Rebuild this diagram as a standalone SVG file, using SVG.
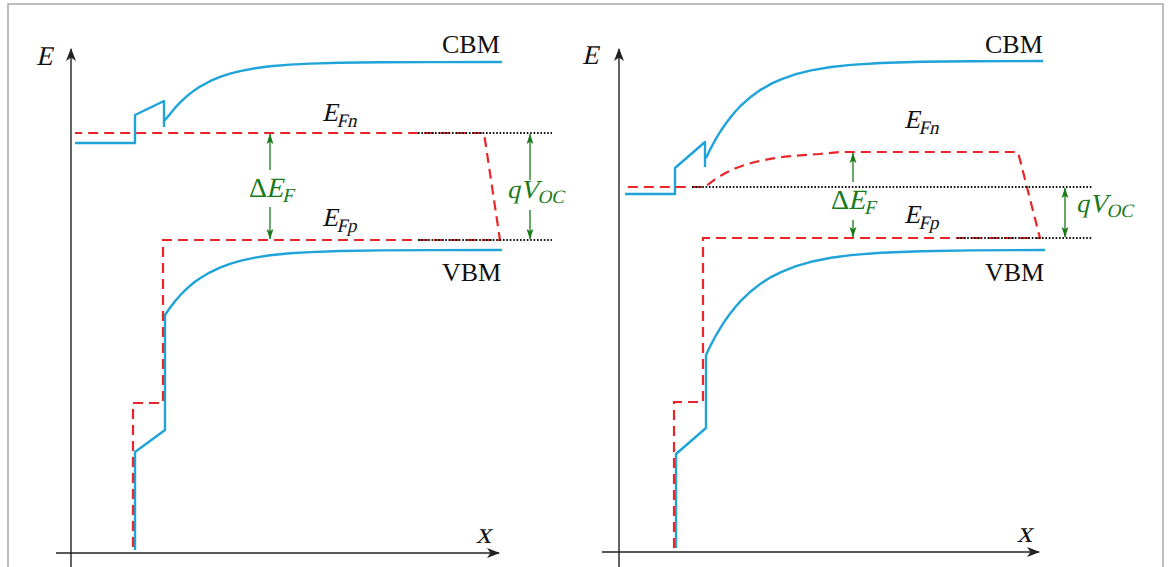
<svg xmlns="http://www.w3.org/2000/svg" width="1170" height="567" viewBox="0 0 1170 567">
<style>
.ax{stroke:#222;stroke-width:1.4;fill:none}
.band{stroke:#1fa3d9;stroke-width:2.4;fill:none;stroke-linejoin:round}
.fermi{stroke:#e8262a;stroke-width:2.2;fill:none;stroke-dasharray:10 6}
.dot{stroke:#111;stroke-width:1.8;fill:none;stroke-dasharray:1.6 1.8}
.gr{stroke:#1a7a1a;stroke-width:1.3;fill:none}
.t{font-family:"Liberation Serif","Times New Roman",serif;fill:#111}
.g{fill:#1a7a1a}
</style>
<defs>
<marker id="ah" markerWidth="14" markerHeight="10" refX="12" refY="5" orient="auto" markerUnits="userSpaceOnUse"><path d="M0,0 L13,5 L0,10 L3.5,5 z" fill="#222"/></marker>
<marker id="ga" markerWidth="11" markerHeight="8" refX="10" refY="4" orient="auto" markerUnits="userSpaceOnUse"><path d="M0,0.6 L10.5,4 L0,7.4 L2.2,4 z" fill="#1a7a1a"/></marker>
</defs>
<rect x="8" y="4" width="1155" height="620" fill="#fff" stroke="#a8a8a8" stroke-width="1.5"/>

<g id="left-panel">
<g id="left-axes">
<line class="ax" x1="71" y1="567" x2="71" y2="49" marker-end="url(#ah)"/>
<line class="ax" x1="56" y1="553" x2="499" y2="553" marker-end="url(#ah)"/>
<text class="t" font-size="27" transform="translate(36,65) skewX(-13)">E</text>
<text class="t" font-size="30" transform="translate(476,543) skewX(-13)">x</text>
</g>
<g id="left-cbm">
<path class="band" d="M75,143 H135 V115 L164,101 V127 M164,121 L170,114.1 L175,107.9 L180,102.6 L185,97.8 L190,93.6 L195,89.9 L200,86.6 L210,81.2 L220,76.9 L230,73.6 L240,71.1 L255,68.2 L270,66.3 L290,64.6 L310,63.6 L340,62.7 L380,62.3 L430,62.1 L502,62"/>
<text class="t" x="442" y="53" font-size="26">CBM</text>
</g>
<g id="left-vbm">
<path class="band" d="M135,550 V452 L165,430 V315 L170,307.7 L175,301.2 L180,295.5 L185,290.4 L190,285.8 L195,281.8 L200,278.3 L210,272.3 L220,267.6 L230,263.8 L240,260.9 L255,257.6 L270,255.3 L290,253.3 L310,252.1 L340,251 L380,250.4 L430,250.1 L502,250"/>
<text class="t" x="442" y="281" font-size="26">VBM</text>
</g>
<g id="left-fermi">
<path class="fermi" d="M133,547 V403 H163 V240 H500 L484,133 H75"/>
<text class="t" font-size="26" transform="translate(322,121) skewX(-13)">E<tspan font-size="19" dy="6">Fn</tspan></text>
<text class="t" font-size="26" transform="translate(322,226) skewX(-13)">E<tspan font-size="19" dy="6">Fp</tspan></text>
</g>
<g id="left-connectors">
<line class="dot" x1="418" y1="133" x2="552" y2="133"/>
<line class="dot" x1="418" y1="240" x2="552" y2="240"/>
<line class="gr" x1="270" y1="170" x2="270" y2="134" marker-end="url(#ga)"/>
<line class="gr" x1="270" y1="207" x2="270" y2="239" marker-end="url(#ga)"/>
<line class="gr" x1="530" y1="180" x2="530" y2="134" marker-end="url(#ga)"/>
<line class="gr" x1="530" y1="210" x2="530" y2="239" marker-end="url(#ga)"/>
</g>
<g id="left-labels">
<text class="t g" x="249" y="197" font-size="28">Δ</text>
<text class="t g" font-size="28" transform="translate(266,197) skewX(-13)">E<tspan font-size="20" dy="5">F</tspan></text>
<text class="t g" font-size="26" transform="translate(507,198) skewX(-13)">qV<tspan font-size="19" dy="5">OC</tspan></text>
</g>
</g>

<g id="right-panel">
<g id="right-axes">
<line class="ax" x1="619" y1="567" x2="619" y2="49" marker-end="url(#ah)"/>
<line class="ax" x1="602" y1="552" x2="1039" y2="552" marker-end="url(#ah)"/>
<text class="t" font-size="27" transform="translate(582,64) skewX(-13)">E</text>
<text class="t" font-size="30" transform="translate(1017,542) skewX(-13)">x</text>
</g>
<g id="right-cbm">
<path class="band" d="M625,194 H675 V168 L705,142 V167 M706,158 L711,147.8 L716,138.7 L721,130.5 L726,123.2 L731,116.7 L736,110.8 L741,105.5 L751,96.7 L761,89.6 L771,83.9 L781,79.3 L796,74.1 L811,70.4 L831,67 L851,64.9 L881,63 L921,61.8 L971,61.3 L1043,61"/>
<text class="t" x="985" y="53" font-size="26">CBM</text>
</g>
<g id="right-vbm">
<path class="band" d="M676,548 V454 L706,428 V355 L711,344.6 L716,335.3 L721,326.9 L726,319.2 L731,312.4 L736,306.2 L741,300.6 L751,291.2 L761,283.4 L771,277.1 L781,272.1 L796,266.1 L811,261.8 L831,257.8 L851,255.1 L881,252.7 L921,251.2 L971,250.4 L1045,250"/>
<text class="t" x="985" y="281" font-size="26">VBM</text>
</g>
<g id="right-fermi">
<path class="fermi" d="M674,548 V402 H703 V238 H1040 L1018,152 H840 L820,154 L800,155.3 L785,156.7 L770,158.9 L755,162 L745,164.9 L735,168.5 L725,173.2 L715,179.3 L705,187 H625"/>
<text class="t" font-size="26" transform="translate(904,128) skewX(-13)">E<tspan font-size="19" dy="6">Fn</tspan></text>
<text class="t" font-size="26" transform="translate(904,223) skewX(-13)">E<tspan font-size="19" dy="6">Fp</tspan></text>
</g>
<g id="right-connectors">
<line class="dot" x1="692" y1="187" x2="1092" y2="187"/>
<line class="dot" x1="957" y1="238" x2="1092" y2="238"/>
<line class="gr" x1="853" y1="182" x2="853" y2="153" marker-end="url(#ga)"/>
<line class="gr" x1="853" y1="220" x2="853" y2="237" marker-end="url(#ga)"/>
<line class="gr" x1="1065" y1="212" x2="1065" y2="188" marker-end="url(#ga)"/>
<line class="gr" x1="1065" y1="212" x2="1065" y2="237" marker-end="url(#ga)"/>
</g>
<g id="right-labels">
<text class="t g" x="831" y="209" font-size="28">Δ</text>
<text class="t g" font-size="28" transform="translate(848,209) skewX(-13)">E<tspan font-size="20" dy="5">F</tspan></text>
<text class="t g" font-size="26" transform="translate(1076,212) skewX(-13)">qV<tspan font-size="19" dy="5">OC</tspan></text>
</g>
</g>
</svg>
